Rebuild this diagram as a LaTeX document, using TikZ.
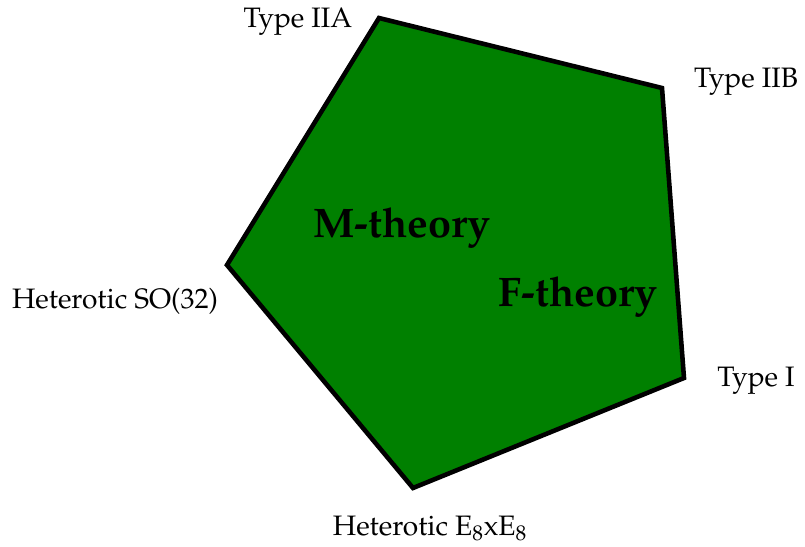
\documentclass[tikz,border=0pt]{standalone}
\usepackage[T1]{fontenc}
\usepackage{mathpazo}
\usepackage{tikz}
\usetikzlibrary{positioning}

\definecolor{theorygreen}{RGB}{0,128,0}

\begin{document}
\begin{tikzpicture}[
        x=0.02cm, y=-0.02cm,
        vertexlabel/.style={font=\fontsize{16}{19}\selectfont, inner sep=0pt},
        theorylabel/.style={font=\fontsize{23.5}{28}\selectfont\bfseries, inner sep=0pt},
        pentagon/.style={draw=black, line width=2.6pt, line join=miter, fill=theorygreen}
      ]
        \useasboundingbox (0,0) rectangle (805,547);

        \coordinate (viia) at (379,18);
        \coordinate (viib) at (662,88);
        \coordinate (vi) at (684,378);
        \coordinate (ve) at (413,488);
        \coordinate (vso) at (227,265);

        \draw[pentagon] (viia) -- (viib) -- (vi) -- (ve) -- (vso) -- cycle;

        \node[theorylabel] (mth) at (402,228) {M-theory};
        \node[theorylabel] (fth) at (578,297) {F-theory};

        \node[vertexlabel] (iia) at (298,22) {Type IIA};
        \node[vertexlabel] (iib) at (746,82) {Type IIB};
        \node[vertexlabel] (typei) at (756,381) {Type I};
        \node[vertexlabel] (heso) at (115,301) {Heterotic SO(32)};
        \node[vertexlabel] (hee) at (430,528) {Heterotic E$_8$xE$_8$};
      \end{tikzpicture}
\end{document}
